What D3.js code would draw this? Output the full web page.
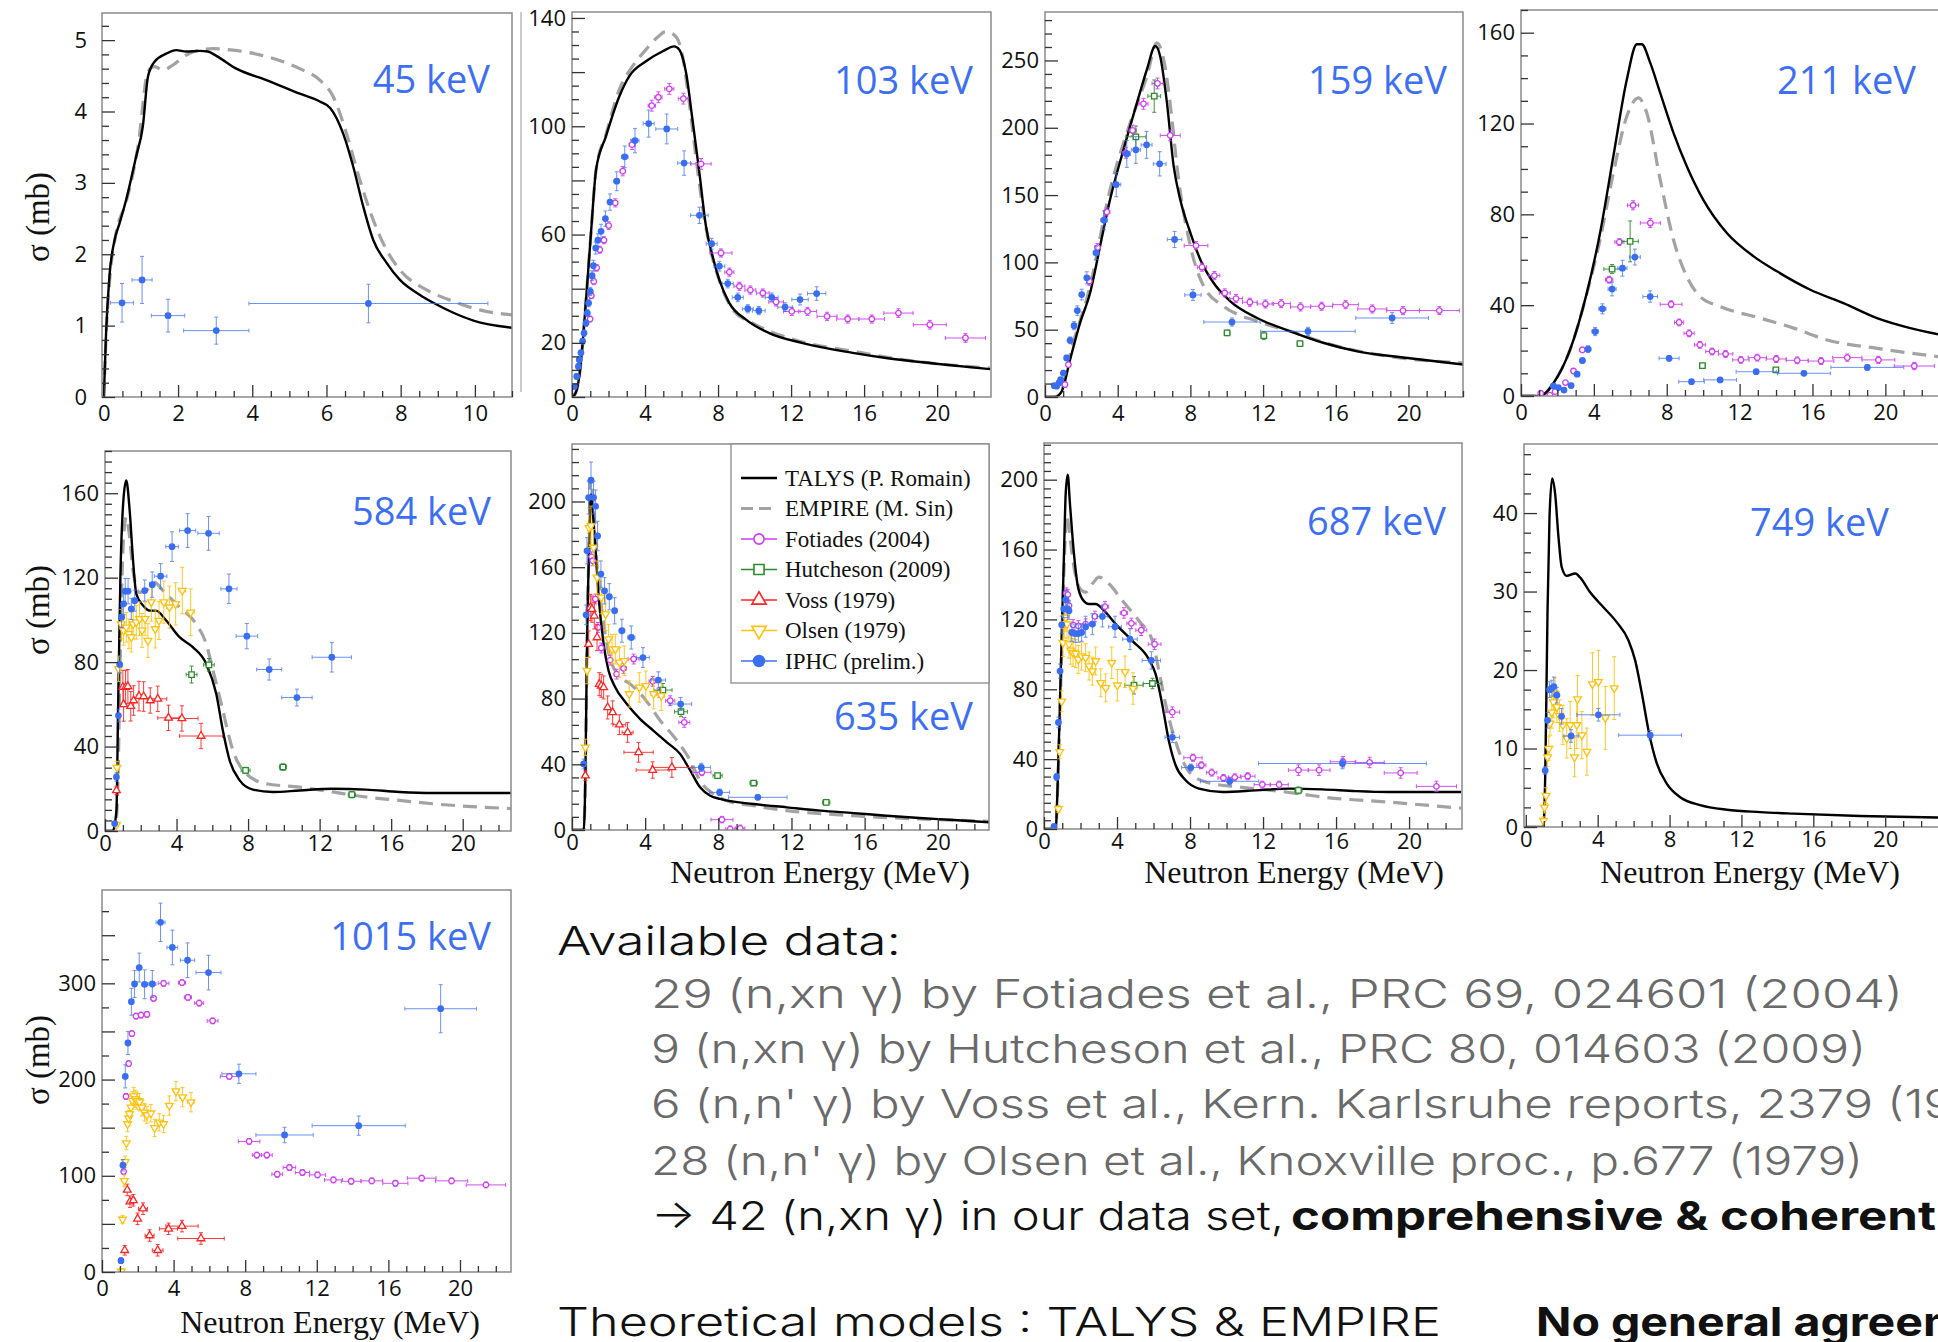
<!DOCTYPE html>
<html>
<head>
<meta charset="utf-8">
<script src="https://cdn.jsdelivr.net/npm/d3@7"></script>
<style>
body { margin: 0; background: #fff; }
svg { display: block; }
</style>
</head>
<body>
<svg id="fig" width="1938" height="1342"></svg>
<script>
// ---- data: [E (MeV), sigma (mb)] for curves, [E, sigma, dE, dsigma] for points

// 45 keV
var talys45 = [[0,0],[0.06,0.9],[0.15,1.69],[0.29,2.2],[0.42,2.43],[0.6,2.76],[0.87,3.37],[1.05,3.79],[1.19,4.49],[1.37,4.7],[1.68,4.81],[1.95,4.86],[2.22,4.84],[2.58,4.85],[2.8,4.84],[3.03,4.78],[3.57,4.6],[4.38,4.44],[5.28,4.25],[5.82,4.14],[6.1,4.05],[6.45,3.69],[6.72,3.23],[6.99,2.67],[7.26,2.2],[7.62,1.88],[7.98,1.64],[8.52,1.43],[8.88,1.32],[9.42,1.18],[9.96,1.07],[11,0.97]]
var empire45 = [[0,0],[0.06,0.85],[0.15,1.6],[0.33,2.3],[0.6,2.73],[0.92,3.51],[1.19,4.56],[1.37,4.63],[1.59,4.58],[1.86,4.65],[2.22,4.79],[2.58,4.86],[2.94,4.88],[3.48,4.86],[4.38,4.77],[5.28,4.6],[5.82,4.44],[6.18,4.21],[6.54,3.69],[6.9,3.04],[7.26,2.48],[7.62,2.06],[7.98,1.78],[8.7,1.5],[9.42,1.34],[10.13,1.22],[11,1.15]]
var iphc45 = [[0.49,1.32,0.31,0.27],[1.03,1.64,0.27,0.33],[1.73,1.14,0.45,0.23],[3.03,0.93,0.88,0.19],[7.13,1.31,3.22,0.27]]

// 103 keV
var talys103 = [[0,0],[0.2,1.5],[0.4,7.6],[0.77,36],[1.04,60.6],[1.32,84],[1.86,96.3],[2.59,111],[3.14,118.5],[4.05,124],[4.97,127.7],[5.6,129.5],[5.88,128.3],[6.25,119.7],[6.6,102.4],[6.98,82.7],[7.34,63],[7.7,52],[8.07,43.3],[8.62,34.7],[9.53,28.6],[10.8,23.6],[12.64,19.9],[15.38,16.3],[17.2,14.4],[19.95,12.3],[22.9,10.3]]
var empire103 = [[0,0],[0.2,1.5],[0.4,7.6],[0.77,36],[1.04,60.6],[1.32,84],[1.86,97],[2.59,113.5],[3.3,122],[4.05,128.3],[4.7,133],[5.15,135],[5.7,133],[6.06,125.8],[6.4,110],[6.8,88],[7.2,68],[7.6,54],[8.07,43],[8.8,32.3],[9.9,27.3],[12,21.5],[15.38,16.9],[19,13],[22.9,10.7]]
var fot103 = [[0.99,28.8,0.05,1],[1.06,37.4,0.05,1],[1.19,42.7,0.06,1.2],[1.35,47.7,0.07,1.2],[1.52,54.4,0.08,1.3],[1.75,57.9,0.1,1.3],[2.01,63.3,0.1,1.4],[2.37,71.7,0.12,1.5],[2.78,83.4,0.14,1.7],[3.29,93.2,0.16,1.8],[4.37,107.6,0.2,2],[4.73,110.7,0.2,2],[5.33,113.8,0.25,2],[6.1,110.2,0.28,2],[7.07,86.1,0.55,2],[8.16,53.2,0.6,1.5],[8.62,46.1,0.25,1.5],[9.17,40.9,0.3,1.5],[9.77,39.5,0.3,1.5],[10.45,38.4,0.35,1.5],[11.18,35.1,0.4,1.5],[12.04,31.6,0.45,1.5],[12.9,31.6,0.5,1.5],[13.97,29.8,0.55,1.5],[15.1,28.8,0.6,1.5],[16.42,28.8,0.7,1.5],[17.88,31,0.8,1.6],[19.6,26.7,0.9,1.6],[21.55,21.8,1.1,1.6]]
var iphc103 = [[0.13,3.9,0.03,0.8],[0.26,7.6,0.03,1],[0.35,11.3,0.03,1],[0.4,13.8,0.03,1],[0.49,16.3,0.03,1],[0.58,20.6,0.03,1],[0.66,23.6,0.03,1.2],[0.77,27.3,0.04,1.2],[0.84,31,0.04,1.3],[0.91,34.7,0.04,1.4],[1,39,0.04,1.5],[1.1,44.8,0.05,1.8],[1.17,48.5,0.05,2],[1.3,55,0.06,2.2],[1.42,57.9,0.07,2.4],[1.59,61.2,0.08,2.6],[1.83,65.9,0.1,2.8],[2.08,72,0.12,3],[2.45,79.7,0.15,3.5],[2.89,88.7,0.18,4],[3.45,94.7,0.22,4.5],[4.2,101,0.3,5],[5.19,99,0.6,5.5],[6.14,86.4,0.35,4.5],[6.98,67.1,0.48,3],[7.65,56.6,0.3,2],[8.07,48.3,0.3,1.8],[8.53,41.9,0.3,1.6],[9.08,36.8,0.3,1.6],[9.63,32.6,0.3,1.5],[10.23,31.9,0.35,1.5],[10.94,36.8,0.35,1.6],[11.67,33.2,0.4,1.6],[12.49,36,0.45,2],[13.4,38.2,0.5,2.5]]

// 159 keV
var talys159 = [[0,0],[0.55,0],[0.92,4.2],[1.38,27.7],[1.93,55],[2.48,77.3],[3.03,112],[3.58,146.7],[4.32,183.8],[5.06,218.5],[5.6,243],[6.07,260.7],[6.34,253],[6.71,218.5],[7.08,171.5],[7.44,146.7],[8,122],[8.55,102],[9.28,84.7],[10.2,71.1],[11.67,58.7],[13.5,48.8],[15.35,40.1],[17.2,33.9],[19.95,29],[23.07,24]]
var empire159 = [[0,0],[0.55,0],[0.92,5],[1.38,31.5],[2.48,82.3],[3.58,154],[4.69,203.7],[5.6,238],[6.16,263],[6.53,250.7],[6.99,206],[7.26,171.5],[8,112],[8.73,82.3],[9.83,67.4],[11.67,56.2],[13.5,48.8],[16,38],[19,30],[23.07,25.3]]
var fot159 = [[1.1,9.2,0.05,2],[1.29,24,0.06,2],[2.44,86,0.12,3],[2.89,111,0.14,3],[3.4,137.5,0.17,3],[4.45,181.4,0.2,4],[4.82,198,0.2,4],[5.42,217.8,0.25,4],[6.19,232.9,0.3,4],[6.89,194.3,0.55,4],[8.31,112.5,0.65,3],[8.64,96.4,0.25,3],[9.32,90.2,0.3,3],[9.89,77.3,0.3,3],[10.51,73.1,0.35,3],[11.27,70.4,0.4,3],[12.13,69.1,0.45,3],[13,69.4,0.5,3],[14.06,66.9,0.55,3],[15.22,67.4,0.6,3],[16.54,68.6,0.7,3],[18.01,65.4,0.8,3],[19.7,64.2,0.9,3],[21.7,64.2,1.1,3]]
var hut159 = [[5,193.3,0.55,8],[6.01,223.5,0.35,12],[10.02,47.6,0.15,2],[12.04,45.6,0.15,3],[14.03,39.6,0.15,2]]
var iphc159 = [[0.51,8.4,0.05,1],[0.64,8,0.04,1],[0.77,10.4,0.04,1],[0.86,12.9,0.04,1.5],[1.01,17.8,0.05,2],[1.19,29,0.06,2],[1.38,42.1,0.07,2.5],[1.6,53,0.08,3],[1.78,64.2,0.09,3.5],[2.02,76.1,0.1,4],[2.3,88.5,0.12,4.5],[2.81,107,0.15,5],[3.25,131.3,0.18,7],[3.92,157.8,0.25,9],[4.5,180.6,0.2,10],[5,183.6,0.25,10],[5.59,187.3,0.3,10],[6.31,173.2,0.35,9],[7.13,117,0.4,6],[8.14,75.8,0.45,4],[10.29,55.7,1.55,3],[14.47,48.8,2.6,3],[19.1,58.7,2,4]]

// 211 keV
var talys211 = [[0,0],[0.95,0],[1.3,1],[1.78,5.6],[2.69,20.3],[3.61,45.3],[4.34,71.8],[5.07,105.6],[5.81,139.4],[6.36,154.9],[6.63,154.9],[7.09,146.8],[7.64,133.5],[8.37,115.9],[9.1,101.2],[10,86.5],[11.3,71.8],[12.77,61.5],[14.05,54.9],[15.88,46.8],[17.7,40.9],[19.54,34.3],[21.37,29.9],[23,27]]
var empire211 = [[0,0],[0.95,0],[1.3,1],[1.78,5.6],[2.69,20.3],[3.61,45],[4.34,68.8],[5.07,98.2],[5.81,123.2],[6.45,131.3],[6.9,124.7],[7.64,95.3],[8.37,68.8],[9.1,52.6],[9.83,43.8],[10.93,39.4],[13.13,34.3],[14.96,29.9],[16.8,24.7],[19.54,21],[23,17.2]]
var fot211 = [[1.08,1.2,0.05,0.6],[1.59,0.4,0.07,0.6],[1.87,1.9,0.08,0.6],[2.44,5.9,0.1,0.8],[2.88,11,0.12,1],[3.37,20.3,0.15,1.2],[4.84,51.2,0.2,1.5],[5.4,67.8,0.25,1.5],[6.15,84,0.3,2],[7.1,76.2,0.55,2],[8.24,40.4,0.6,1.5],[8.68,32.4,0.25,1.5],[9.23,27.6,0.28,1.5],[9.82,22.5,0.3,1.5],[10.49,19.6,0.35,1.5],[11.23,18.5,0.4,1.5],[12.07,15.9,0.45,1.5],[12.97,16.9,0.5,1.5],[14.01,16.3,0.55,1.5],[15.16,15.7,0.6,1.5],[16.47,15.4,0.7,1.5],[17.91,16.9,0.8,1.6],[19.62,15.9,0.9,1.6],[21.59,13.2,1.1,1.6]]
var hut211 = [[5,55.9,0.45,2],[5.99,68.1,0.45,9],[9.96,13.4,0.15,1],[13.99,11.5,0.15,1]]
var iphc211 = [[1.78,4.4,0.08,0.8],[2.05,3.7,0.1,0.8],[2.36,2.6,0.1,0.8],[2.75,4.6,0.12,1],[3.08,9.6,0.12,1],[3.37,15.6,0.14,1.2],[3.68,20.6,0.16,1.5],[4.07,28.4,0.18,1.8],[4.47,38.4,0.2,2.2],[5,47.1,0.22,3],[5.57,56.3,0.25,3.5],[6.25,61.2,0.3,3.5],[7.09,43.8,0.4,2.5],[8.13,16.6,0.55,1.2],[9.36,6.3,0.7,0.8],[10.93,7.1,0.9,0.8],[12.91,10.7,1.1,1],[15.53,10,1.45,1],[19.01,12.6,2,1.2]]

// 584 keV
var talys584 = [[0,0],[0.44,0],[0.64,9.8],[0.73,57],[0.86,120],[1.04,158],[1.19,166],[1.38,151.7],[1.57,128],[1.75,112.3],[2.13,106.8],[2.49,104.4],[2.86,104.4],[3.42,99.7],[4.17,91.8],[4.91,87.1],[5.66,79.2],[6.22,65],[6.59,47.6],[6.97,33.4],[7.53,24],[8.27,19.6],[9.38,18.5],[10.88,19.2],[12.72,20],[14.6,19.6],[16.46,18.5],[18.32,18],[22.8,18]]
var empire584 = [[0,0],[0.44,0],[0.64,6],[0.73,25.6],[0.86,88.6],[1.04,139],[1.19,148.6],[1.38,139],[1.57,123],[1.93,113],[2.31,113.9],[2.77,117.8],[3.24,113.9],[4.17,106],[5.1,98],[5.66,88.6],[6.04,76],[6.5,60.3],[7.15,38.2],[7.9,27.1],[9.01,22.4],[10.88,20.8],[12.72,18.5],[14.6,16.1],[16.46,14.5],[18.32,12.9],[22.8,10.6]]
var hut584 = [[4.84,74.1,0.3,4],[5.81,78.7,0.3,3],[7.86,28.7,0.25,1.5],[9.95,30.3,0.2,1.5],[13.8,17.2,0.2,1.5]]
var voss584 = [[0.64,19.2,0.03,2],[1,68.1,0.05,8],[1.04,60,0.05,8],[1.15,68.1,0.05,8],[1.28,68.5,0.06,8],[1.44,59.1,0.07,7],[1.6,61.8,0.08,7],[1.9,63.9,0.1,7],[2.16,63.7,0.12,7],[2.53,61.8,0.15,6],[2.95,62.6,0.5,6],[3.55,53.6,0.6,6],[4.3,53.3,0.9,6],[5.37,45,1.2,6]]
var olsen584 = [[0.64,3,0.03,1],[0.67,30,0.03,3],[0.76,76.8,0.04,6],[0.91,98,0.05,7],[1.04,95,0.05,7],[1.19,96.5,0.05,7],[1.34,93.4,0.06,7],[1.47,91.8,0.06,7],[1.57,98,0.07,7],[1.75,98.9,0.08,8],[1.93,100.5,0.09,8],[2.07,95,0.1,8],[2.24,100.5,0.1,8],[2.4,90.2,0.1,8],[2.59,108.4,0.12,9],[2.81,95.7,0.12,9],[3.02,99.7,0.13,9],[3.29,108.4,0.14,10],[3.6,106,0.15,10],[3.95,107.6,0.16,10],[4.32,113.9,0.18,11],[4.79,103.6,0.2,11]]
var iphc584 = [[0.54,3.5,0.03,1],[0.64,25.6,0.03,2],[0.75,54.7,0.04,3],[0.82,78.9,0.04,4],[0.93,101.3,0.05,5],[1.04,107.6,0.05,5],[1.13,113.6,0.06,6],[1.29,113.6,0.06,6],[1.47,105.2,0.07,5],[1.66,109.1,0.08,5],[2.22,113.9,0.12,5],[2.64,116.7,0.15,6],[3.11,120.7,0.35,6],[3.75,134.7,0.35,7],[4.62,142.3,0.45,8],[5.79,141,0.6,8],[6.93,114.7,0.45,7],[7.93,92.3,0.6,6],[9.18,76.5,0.7,5],[10.73,63.2,0.85,4],[12.68,82.3,1.1,7]]

// 635 keV
var talys635 = [[0,0],[0.64,0],[0.73,32],[0.82,113],[0.95,178],[1.04,204.5],[1.15,192],[1.28,172],[1.46,141.6],[1.73,113],[2,97],[2.37,86.8],[3,76.7],[3.73,67.5],[4.46,60.4],[5.19,53.3],[5.92,46.2],[6.47,36.1],[7,26],[7.56,20.9],[8.1,18.9],[9.93,15.8],[11.75,13.8],[13.57,11.8],[15.4,10.3],[17.2,8.7],[19,7.3],[20.86,6.1],[22.8,4.7]]
var empire635 = [[0,0],[0.64,0],[0.73,30],[0.82,110],[0.95,185],[1,212],[1.07,214],[1.15,200],[1.28,174],[1.55,141.6],[1.91,113],[2.46,95],[3.19,88.8],[3.92,80.7],[4.83,66.5],[5.74,54.4],[6.47,42.2],[7,30],[7.74,21.9],[8.47,17.8],[9.93,14.8],[11.75,11.8],[15.4,8.7],[19,6.7],[22.8,5.3]]
var fot635 = [[1.07,166.3,0.04,3],[1.13,163.9,0.04,3],[1.28,140.6,0.05,3],[1.42,123.3,0.06,3],[1.6,110.8,0.07,3],[2.09,103.4,0.1,3],[2.44,94.9,0.12,3],[2.82,98.4,0.15,3],[3.37,104.1,0.3,3],[4.41,90.5,0.2,3],[4.79,83.8,0.2,3],[5.37,78.7,0.25,3],[6.14,65.5,0.3,3],[7.1,35.1,0.5,2],[8.2,6.3,0.6,2],[8.65,0.5,0.25,2],[9.2,1,0.25,2]]
var hut635 = [[4.97,85.2,0.5,4],[5.96,72,0.35,3],[7.96,33.1,0.25,1.5],[9.93,28.6,0.2,1.5],[13.9,16.8,0.2,1.5]]
var voss635 = [[0.73,33.1,0.03,3],[0.91,113.2,0.04,8],[1,135.5,0.04,8],[1.09,134.5,0.04,8],[1.22,130.4,0.05,8],[1.37,117.2,0.05,8],[1.49,88.8,0.06,7],[1.6,87.8,0.06,7],[1.73,86.8,0.07,7],[1.95,74.6,0.08,7],[2.22,71.6,0.1,7],[2.59,64.1,0.35,6],[3.04,59.4,0.3,6],[3.64,47.3,0.8,6],[4.41,36.5,0.9,5],[5.46,38.1,1.1,6]]
var olsen635 = [[0.73,50.3,0.03,5],[0.82,97,0.03,8],[0.93,184,0.04,12],[1.04,185.2,0.04,12],[1.18,172,0.05,11],[1.37,153.8,0.05,10],[1.6,141.6,0.06,10],[1.84,131.4,0.07,10],[2,116.2,0.08,9],[2.19,110.1,0.09,9],[2.37,110.1,0.1,9],[2.6,102,0.1,9],[2.86,103,0.12,9],[3.13,82.8,0.12,8],[3.68,86.8,0.14,9],[4.04,87.8,0.15,9],[4.46,82.8,0.16,9],[4.88,81.7,0.18,9]]
var iphc635 = [[0.64,40.2,0.03,3],[0.77,131,0.03,6],[0.82,170,0.03,8],[0.91,202.4,0.04,10],[1.04,213,0.04,11],[1.18,202.4,0.05,10],[1.29,197,0.05,10],[1.4,179,0.06,9],[1.58,155.8,0.07,8],[1.78,145.6,0.08,8],[2.04,142,0.1,8],[2.33,133.5,0.12,8],[2.73,121.3,0.15,7],[3.24,117.2,0.2,7],[3.88,105,0.35,6],[4.72,91.3,0.4,5],[5.94,76.7,0.6,4],[7.07,38.1,0.5,2.5],[8.07,22.9,0.55,2],[10.16,19.9,1.6,1.5]]

// 687 keV
var talys687 = [[0,0],[0.64,0],[0.73,19.2],[0.91,86.5],[1.1,159.6],[1.19,192.3],[1.3,202.9],[1.42,186.5],[1.64,157.7],[1.83,140.4],[2.1,131.7],[2.47,128.8],[2.83,128.8],[3.29,125],[3.93,117.3],[4.84,107.7],[5.75,97.1],[6.12,88.5],[6.48,71.2],[6.85,50],[7.21,36.5],[7.76,27.9],[8.49,23.1],[9.77,21.2],[11.6,22.1],[13.42,23.1],[15.25,22.7],[17.08,21.7],[18.9,21.2],[22.85,21.2]]
var empire687 = [[0,0],[0.64,0],[0.73,18],[0.91,80],[1.1,150],[1.24,179.8],[1.42,167.3],[1.64,150],[1.92,138.5],[2.28,135.6],[2.65,140.4],[3.01,144.2],[3.56,140.4],[4.29,130.8],[5.2,119.2],[5.94,107.7],[6.3,90.4],[6.67,71.2],[7.21,50],[7.95,32.7],[8.86,26.9],[10.68,24],[12.5,22.1],[13.97,20.2],[15.25,18.3],[18.9,15.4],[22.85,11.9]]
var fot687 = [[1.22,135,0.04,3],[1.3,134.2,0.04,3],[1.37,127.9,0.05,3],[1.59,116.9,0.06,3],[1.88,116.3,0.08,3],[2.28,117.3,0.1,3],[2.79,121.7,0.14,3],[3.34,127.3,0.2,3],[4.38,123.7,0.2,3],[4.79,117.7,0.25,3],[5.33,113.8,0.3,3],[6.06,105.8,0.35,3],[7.03,66.9,0.4,3],[8.16,40.8,0.5,2],[8.62,36.5,0.25,2],[9.19,32.3,0.28,2],[9.83,29.2,0.3,2],[10.45,29.6,0.35,2],[11.16,30.2,0.4,2],[11.96,25.4,0.45,2],[12.88,25.4,0.5,2],[13.94,33.7,0.55,3],[15.07,33.7,0.6,3],[16.38,38.5,0.7,3],[17.84,38.1,0.8,3],[19.54,32.1,0.9,3],[21.5,24.4,1.1,3]]
var hut687 = [[4.93,82.3,0.5,5],[5.94,83.3,0.5,3],[13.94,22.1,0.2,2]]
var olsen687 = [[0.79,11.5,0.03,2],[0.86,44.2,0.03,4],[0.97,73.1,0.04,6],[1.04,106.7,0.04,8],[1.11,117.3,0.04,8],[1.19,121.2,0.05,8],[1.26,117.3,0.05,8],[1.37,105.8,0.05,8],[1.46,102.3,0.05,8],[1.59,101,0.06,8],[1.74,100.4,0.06,8],[1.88,97.1,0.07,8],[2.06,99,0.08,8],[2.28,98.1,0.09,8],[2.47,93.3,0.1,8],[2.65,90.4,0.1,8],[2.83,96.2,0.11,8],[3.11,83.7,0.12,8],[3.38,80.8,0.13,8],[3.71,95.2,0.14,9],[4.02,82.3,0.15,9],[4.44,90,0.16,9],[4.88,80.4,0.18,9]]
var iphc687 = [[0.55,1.5,0.03,1],[0.69,29.8,0.03,2],[0.79,61,0.03,3],[0.88,90.4,0.04,4],[0.97,116.9,0.04,5],[1.08,126,0.04,5],[1.19,131.3,0.05,5],[1.28,126,0.05,5],[1.37,125,0.05,5],[1.52,112.5,0.06,5],[1.7,111.9,0.07,5],[1.88,111.9,0.08,5],[2.06,112.5,0.09,5],[2.28,115.8,0.1,6],[2.65,117.3,0.15,6],[3.2,121.7,0.3,6],[3.89,115.8,0.35,6],[4.71,108.7,0.4,6],[5.88,96.5,0.5,5],[7.03,52.5,0.4,3],[8.04,35.2,0.5,2],[10.17,27.3,1.6,2],[16.35,37.5,4.6,3]]

// 749 keV
var talys749 = [[0,0],[0.98,0],[1.08,6.4],[1.21,27.6],[1.32,39.5],[1.47,44.4],[1.63,42.5],[1.82,36.9],[2,33.1],[2.28,32],[2.75,32.3],[3.02,31.8],[3.58,29.9],[4.32,28],[5.06,26.1],[5.71,23.8],[6.09,21.2],[6.46,17],[6.83,12.3],[7.29,8.1],[7.85,5.5],[8.59,3.8],[9.7,2.8],[11.19,2.2],[13.04,1.9],[14.9,1.7],[18.6,1.4],[23,1.2]]
var olsen749 = [[0.98,0.8,0.03,0.5],[1.04,2.5,0.03,0.7],[1.13,4,0.03,1],[1.21,8.9,0.04,1.2],[1.28,10,0.04,1.5],[1.35,13.2,0.04,1.5],[1.45,14.6,0.05,2],[1.54,15.9,0.05,2],[1.63,17,0.05,2],[1.73,15.3,0.06,2],[1.87,14.2,0.06,2],[2.06,13,0.07,2.5],[2.28,11.3,0.08,2.5],[2.47,13,0.08,3],[2.71,8.9,0.09,2.5],[2.84,13,0.1,3],[2.88,16.3,0.1,3],[3.12,11.7,0.1,3],[3.4,9.6,0.11,3],[3.71,18.2,0.12,4],[4.04,18.5,0.13,4],[4.43,13.9,0.14,4],[4.92,17.7,0.15,4]]
var iphc749 = [[1.08,7.2,0.03,0.5],[1.21,13.6,0.04,1],[1.32,17.5,0.05,1],[1.45,17.7,0.05,1],[1.56,17.9,0.05,1.2],[1.73,16.8,0.06,1],[1.99,14.1,0.07,1],[2.52,11.6,0.4,0.8],[4.04,14.3,1.2,0.8],[6.92,11.7,1.75,0.6]]

// 1015 keV
var fot1015 = [[1.21,104.4,0.04,3],[1.34,182.4,0.05,3],[1.49,216.5,0.05,3],[1.67,247.8,0.06,3],[1.9,265.9,0.08,3],[2.18,267,0.1,3],[2.51,267.7,0.12,3],[2.88,284.4,0.15,3],[3.44,300,0.3,3],[4.47,300.7,0.2,3],[4.8,285.4,0.2,3],[5.43,279.5,0.25,3],[6.18,261,0.3,3],[7.11,203.3,0.5,3],[8.22,135.7,0.6,3],[8.65,121.5,0.25,3],[9.21,121.5,0.3,3],[9.79,101.6,0.3,3],[10.47,108.6,0.35,3],[11.2,103.4,0.4,3],[12.04,100.9,0.45,3],[12.93,95.7,0.5,3],[13.92,94.3,0.55,3],[15.07,94.7,0.6,3],[16.39,92.2,0.7,3],[17.86,97.5,0.8,3],[19.53,94.7,0.9,3],[21.45,90.5,1.1,3]]
var voss1015 = [[1.27,22.6,0.04,5],[1.41,85.3,0.05,6],[1.56,73.1,0.06,6],[1.75,74.5,0.08,6],[1.99,55.3,0.1,6],[2.29,65.8,0.25,6],[2.66,37.9,0.25,6],[3.11,22.6,0.3,6],[3.72,44.9,0.5,6],[4.47,47.7,0.9,6],[5.53,34.8,1.3,6]]
var olsen1015 = [[1.08,0.7,0.03,3],[1.15,54.6,0.03,4],[1.25,94.7,0.04,6],[1.3,114.5,0.04,6],[1.36,134,0.04,7],[1.43,153.8,0.05,8],[1.49,159.8,0.05,8],[1.54,164.3,0.05,8],[1.62,171.2,0.06,8],[1.69,178.2,0.06,9],[1.77,182.7,0.06,9],[1.86,180,0.07,9],[1.95,178.2,0.07,9],[2.1,176.5,0.08,9],[2.23,171.2,0.08,9],[2.38,166,0.09,9],[2.51,163.2,0.1,9],[2.73,165,0.1,9],[2.94,149.7,0.11,9],[3.2,155.6,0.12,9],[3.44,153.8,0.13,9],[3.76,173,0.14,10],[4.13,188,0.15,10],[4.5,181.7,0.16,10],[4.97,176.5,0.18,10]]
var iphc1015 = [[1.06,11.8,0.04,3],[1.17,111,0.05,6],[1.3,203.3,0.05,12],[1.45,238,0.06,12],[1.64,280.9,0.07,14],[1.82,299.3,0.08,14],[2.08,316.4,0.1,15],[2.38,299,0.15,15],[2.81,299.3,0.2,14],[3.27,363.4,0.25,20],[3.93,337.3,0.3,18],[4.78,324,0.4,18],[5.95,311.2,0.7,18],[7.65,206,0.95,10],[10.2,142.4,1.6,8],[14.34,152.1,2.6,10],[18.92,273.6,2,25]]

// axis tick labels per panel
var xLabels45 = [0, 2, 4, 6, 8, 10]
var xLabelsWide = [0, 4, 8, 12, 16, 20]
var yLabels45 = [0, 1, 2, 3, 4, 5]
var yLabels103 = [0, 20, 60, 100, 140]
var yLabels159 = [0, 50, 100, 150, 200, 250]
var yLabels211 = [0, 40, 80, 120, 160]
var yLabels584 = [0, 40, 80, 120, 160]
var yLabels635 = [0, 40, 80, 120, 160, 200]
var yLabels687 = [0, 40, 80, 120, 160, 200]
var yLabels749 = [0, 10, 20, 30, 40]
var yLabels1015 = [0, 100, 200, 300]

var legendNames = ['TALYS (P. Romain)', 'EMPIRE (M. Sin)', 'Fotiades (2004)', 'Hutcheson (2009)', 'Voss (1979)', 'Olsen (1979)', 'IPHC (prelim.)']
var legendKeys = ['talys', 'empire', 'fot', 'hut', 'voss', 'olsen', 'iphc']

var col = { talys: '#000', empire: '#a3a3a3', fot: '#cf3cf2', hut: '#2b8a2b', voss: '#ff2424', olsen: '#ffc20e', iphc: '#3a6ef2' }
var kevColor = '#3d6ff4'

var svg = d3.select('#fig')
svg.append('rect').attr('width', 1938).attr('height', 1342).attr('fill', '#fff')

// stray frame edge of the pasted panel
svg.append('line').attr('x1', 521).attr('x2', 521).attr('y1', 12).attr('y2', 392).attr('stroke', '#aaa').attr('stroke-width', 1.2)

var panels = [
  { left: 102, right: 512, top: 13, bottom: 397, xd: [-0.05, 11], yd: [0, 5.38], xl: xLabels45, xMaj: 2, xMin: 0.5, yl: yLabels45, yMaj: 1, yMin: 0.2, ypad: 15, xpad: 8,
    label: '45 keV', lx: 490, ly: 93, ytitle: 217,
    s: { talys: talys45, empire: empire45, iphc: iphc45 } },
  { left: 572, right: 991, top: 12, bottom: 397, xd: [0, 22.95], yd: [0, 142.2], xl: xLabelsWide, xMaj: 4, xMin: 1, yl: yLabels103, yMaj: 20, yMin: 5, ypad: 6, xpad: 8,
    label: '103 keV', lx: 973, ly: 94,
    s: { talys: talys103, empire: empire103, fot: fot103, iphc: iphc103 } },
  { left: 1045, right: 1463, top: 12, bottom: 397, xd: [0, 23], yd: [0, 286], xl: xLabelsWide, xMaj: 4, xMin: 1, yl: yLabels159, yMaj: 50, yMin: 10, ypad: 6, xpad: 8,
    label: '159 keV', lx: 1447, ly: 94,
    s: { talys: talys159, empire: empire159, fot: fot159, hut: hut159, iphc: iphc159 } },
  { left: 1521, right: 1940, top: 10, bottom: 396, xd: [0, 23], yd: [0, 170], xl: xLabelsWide, xMaj: 4, xMin: 1, yl: yLabels211, yMaj: 40, yMin: 10, ypad: 6, xpad: 8,
    label: '211 keV', lx: 1916, ly: 94,
    s: { talys: talys211, empire: empire211, fot: fot211, hut: hut211, iphc: iphc211 } },
  { left: 105, right: 511, top: 451, bottom: 831, xd: [0, 22.7], yd: [0, 180], xl: xLabelsWide, xMaj: 4, xMin: 1, yl: yLabels584, yMaj: 40, yMin: 5, ypad: 6, xpad: 4,
    label: '584 keV', lx: 491, ly: 525, ytitle: 610,
    s: { talys: talys584, empire: empire584, hut: hut584, voss: voss584, olsen: olsen584, iphc: iphc584 } },
  { left: 572, right: 989, top: 444, bottom: 830, xd: [0, 22.8], yd: [0, 235], xl: xLabelsWide, xMaj: 4, xMin: 1, yl: yLabels635, yMaj: 40, yMin: 8, ypad: 6, xpad: 4,
    label: '635 keV', lx: 973, ly: 730, xtitle: [970, 883], legend: true,
    s: { talys: talys635, empire: empire635, fot: fot635, hut: hut635, voss: voss635, olsen: olsen635, iphc: iphc635 } },
  { left: 1044, right: 1462, top: 443, bottom: 829, xd: [0, 22.9], yd: [0, 221], xl: xLabelsWide, xMaj: 4, xMin: 1, yl: yLabels687, yMaj: 40, yMin: 5, ypad: 6, xpad: 4,
    label: '687 keV', lx: 1446, ly: 535, xtitle: [1444, 883],
    s: { talys: talys687, empire: empire687, fot: fot687, hut: hut687, olsen: olsen687, iphc: iphc687 } },
  { left: 1524, right: 1940, top: 444, bottom: 827, xd: [-0.1, 23.05], yd: [0, 48.8], xl: xLabelsWide, xMaj: 4, xMin: 1, yl: yLabels749, yMaj: 10, yMin: 2.5, ypad: 6, xpad: 4,
    label: '749 keV', lx: 1889, ly: 536, xtitle: [1900, 883],
    s: { talys: talys749, olsen: olsen749, iphc: iphc749 } },
  { left: 102, right: 511, top: 890, bottom: 1272, xd: [0, 22.85], yd: [0, 397], xl: xLabelsWide, xMaj: 4, xMin: 1, yl: yLabels1015, yMaj: 50, yMin: 25, ypad: 6, xpad: 8,
    label: '1015 keV', lx: 491, ly: 950, ytitle: 1060, xtitle: [480, 1333],
    s: { fot: fot1015, voss: voss1015, olsen: olsen1015, iphc: iphc1015 } }
]

function stepValues (d, step) {
  var a = Math.ceil(d[0] / step - 1e-9), b = Math.floor(d[1] / step + 1e-9)
  return d3.range(a, b + 1).map(function (i) { return +(i * step).toFixed(6) })
}

var symbols = {
  fot: { type: d3.symbolCircle, size: 24, fill: '#fff', rot: 0 },
  hut: { type: d3.symbolSquare, size: 30, fill: '#fff', rot: 0 },
  voss: { type: d3.symbolTriangle, size: 26, fill: '#fff', rot: 0 },
  olsen: { type: d3.symbolTriangle, size: 26, fill: '#fff', rot: 180 },
  iphc: { type: d3.symbolCircle, size: 36, fill: col.iphc, rot: 0 }
}

function drawPoints (g, key, data, x, y) {
  var c = col[key]
  var eb = g.append('g').attr('stroke', c).attr('stroke-width', 1).attr('opacity', key === 'iphc' ? 0.75 : 0.9)
  data.forEach(function (d) {
    var px = x(d[0]), py = y(d[1])
    var x1 = x(d[0] - d[2]), x2 = x(d[0] + d[2]), y1 = y(d[1] + d[3]), y2 = y(d[1] - d[3])
    eb.append('line').attr('x1', x1).attr('x2', x2).attr('y1', py).attr('y2', py)
    eb.append('line').attr('x1', px).attr('x2', px).attr('y1', y1).attr('y2', y2)
    eb.append('line').attr('x1', x1).attr('x2', x1).attr('y1', py - 2).attr('y2', py + 2)
    eb.append('line').attr('x1', x2).attr('x2', x2).attr('y1', py - 2).attr('y2', py + 2)
    eb.append('line').attr('x1', px - 2).attr('x2', px + 2).attr('y1', y1).attr('y2', y1)
    eb.append('line').attr('x1', px - 2).attr('x2', px + 2).attr('y1', y2).attr('y2', y2)
  })
  var sy = symbols[key]
  g.append('g').selectAll('path').data(data).enter().append('path')
    .attr('d', d3.symbol().type(sy.type).size(sy.size))
    .attr('transform', function (d) { return 'translate(' + x(d[0]) + ',' + y(d[1]) + ') rotate(' + sy.rot + ')' })
    .attr('fill', sy.fill)
    .attr('stroke', c)
    .attr('stroke-width', key === 'iphc' ? 0 : 1.3)
}

panels.forEach(function (p, i) {
  var g = svg.append('g')
  var x = d3.scaleLinear().domain(p.xd).range([p.left, p.right])
  var y = d3.scaleLinear().domain(p.yd).range([p.bottom, p.top])

  svg.append('clipPath').attr('id', 'clip' + i).append('rect')
    .attr('x', p.left).attr('y', p.top).attr('width', p.right - p.left).attr('height', p.bottom - p.top)

  var plot = g.append('g').attr('clip-path', 'url(#clip' + i + ')')
  var line = d3.line().x(function (d) { return x(d[0]) }).y(function (d) { return y(d[1]) }).curve(d3.curveMonotoneX)

  if (p.s.empire) {
    plot.append('path').datum(p.s.empire).attr('d', line).attr('fill', 'none')
      .attr('stroke', col.empire).attr('stroke-width', 3.2).attr('stroke-dasharray', '14,8')
  }
  if (p.s.talys) {
    plot.append('path').datum(p.s.talys).attr('d', line).attr('fill', 'none')
      .attr('stroke', col.talys).attr('stroke-width', 2.4)
  }
  ;['fot', 'hut', 'voss', 'olsen', 'iphc'].forEach(function (k) {
    if (p.s[k]) drawPoints(plot, k, p.s[k], x, y)
  })

  // frame
  g.append('rect').attr('x', p.left).attr('y', p.top).attr('width', p.right - p.left).attr('height', p.bottom - p.top)
    .attr('fill', 'none').attr('stroke', '#8a8a8a').attr('stroke-width', 1.5)

  // axes: ticks drawn inside the frame, ROOT style
  var yMajor = stepValues(p.yd, p.yMaj)
  var yMinor = stepValues(p.yd, p.yMin).filter(function (v) { return yMajor.indexOf(v) < 0 })
  var xMajor = stepValues(p.xd, p.xMaj)
  var xMinor = stepValues(p.xd, p.xMin).filter(function (v) { return xMajor.indexOf(v) < 0 })

  var ya = g.append('g').attr('transform', 'translate(' + p.left + ',0)')
    .call(d3.axisLeft(y).tickValues(yMajor).tickSize(-13).tickPadding(p.ypad)
      .tickFormat(function (v) { return p.yl.indexOf(v) >= 0 ? String(v) : '' }))
  var ym = g.append('g').attr('transform', 'translate(' + p.left + ',0)')
    .call(d3.axisLeft(y).tickValues(yMinor).tickSize(-7).tickFormat(''))
  var xa = g.append('g').attr('transform', 'translate(0,' + p.bottom + ')')
    .call(d3.axisBottom(x).tickValues(xMajor).tickSize(-12).tickPadding(p.xpad)
      .tickFormat(function (v) { return p.xl.indexOf(v) >= 0 ? String(v) : '' }))
  var xm = g.append('g').attr('transform', 'translate(0,' + p.bottom + ')')
    .call(d3.axisBottom(x).tickValues(xMinor).tickSize(-6).tickFormat(''))

  ;[ya, ym, xa, xm].forEach(function (a) {
    a.select('.domain').remove()
    a.selectAll('line').attr('stroke', '#333').attr('stroke-width', 1.3)
    a.selectAll('text').attr('font-family', '"Open Sans", sans-serif').attr('font-size', 22).attr('fill', '#111')
  })

  g.append('text').attr('x', p.lx).attr('y', p.ly).attr('text-anchor', 'end')
    .attr('font-family', '"Open Sans", sans-serif').attr('font-size', 38).attr('fill', kevColor)
    .text(p.label)

  if (p.ytitle) {
    g.append('text').attr('transform', 'translate(37,' + p.ytitle + ') rotate(-90)')
      .attr('text-anchor', 'middle').attr('dy', '0.35em')
      .attr('font-family', '"Liberation Serif", "Times New Roman", serif').attr('font-size', 33).attr('fill', '#111')
      .text('σ (mb)')
  }
  if (p.xtitle) {
    g.append('text').attr('x', p.xtitle[0]).attr('y', p.xtitle[1]).attr('text-anchor', 'end')
      .attr('font-family', '"Liberation Serif", "Times New Roman", serif').attr('font-size', 32).attr('fill', '#111')
      .text('Neutron Energy (MeV)')
  }

  if (p.legend) {
    var lg = g.append('g')
    lg.append('rect').attr('x', 731).attr('y', p.top).attr('width', p.right - 731).attr('height', 683 - p.top)
      .attr('fill', '#fff').attr('stroke', '#8a8a8a').attr('stroke-width', 1.3)
    var rowY = d3.scalePoint().domain(legendKeys).range([478, 661])
    legendKeys.forEach(function (k, j) {
      var ry = rowY(k)
      var ln = lg.append('line').attr('x1', 741).attr('x2', 777).attr('y1', ry).attr('y2', ry)
        .attr('stroke', col[k]).attr('stroke-width', k === 'talys' ? 2.4 : (k === 'empire' ? 3 : 1.6))
      if (k === 'empire') ln.attr('stroke-dasharray', '12,6')
      if (symbols[k]) {
        var sy = symbols[k]
        lg.append('path').attr('d', d3.symbol().type(sy.type).size(sy.size * 3.4))
          .attr('transform', 'translate(759,' + ry + ') rotate(' + sy.rot + ')')
          .attr('fill', sy.fill).attr('stroke', col[k]).attr('stroke-width', k === 'iphc' ? 0 : 1.6)
      }
      lg.append('text').attr('x', 785).attr('y', ry).attr('dy', '0.33em')
        .attr('font-family', '"Liberation Serif", "Times New Roman", serif').attr('font-size', 23).attr('fill', '#111')
        .text(legendNames[j])
    })
  }
})

// ---- text block
var notes = [
  { t: 'Available data:', x: 557, y: 955, len: 344, c: '#111', b: false },
  { t: '29 (n,xn γ) by Fotiades et al., PRC 69, 024601 (2004)', x: 651, y: 1008, len: 1252, c: '#6a6a6a', b: false },
  { t: '9 (n,xn γ) by Hutcheson et al., PRC 80, 014603 (2009)', x: 651, y: 1063, len: 1215, c: '#6a6a6a', b: false },
  { t: '6 (n,n\' γ) by Voss et al., Kern. Karlsruhe reports, 2379 (1979)', x: 651, y: 1118, len: 1375, c: '#6a6a6a', b: false },
  { t: '28 (n,n\' γ) by Olsen et al., Knoxville proc., p.677 (1979)', x: 651, y: 1175, len: 1212, c: '#6a6a6a', b: false },
  { t: '→ 42 (n,xn γ) in our data set,', x: 651, y: 1230, len: 633, c: '#111', b: false },
  { t: 'comprehensive & coherent', x: 1291, y: 1230, len: 645, c: '#111', b: true },
  { t: 'Theoretical models : TALYS & EMPIRE', x: 557, y: 1336, len: 884, c: '#111', b: false },
  { t: 'No general agreement', x: 1536, y: 1336, len: 503, c: '#111', b: true }
]
svg.append('g').selectAll('text').data(notes).enter().append('text')
  .attr('x', function (d) { return d.x })
  .attr('y', function (d) { return d.y })
  .attr('textLength', function (d) { return d.len })
  .attr('lengthAdjust', 'spacingAndGlyphs')
  .attr('font-family', 'Inter, "DejaVu Sans", sans-serif')
  .attr('font-weight', function (d) { return d.b ? 700 : 300 })
  .attr('font-size', 40)
  .attr('fill', function (d) { return d.c })
  .text(function (d) { return d.t })
</script>
</body>
</html>
